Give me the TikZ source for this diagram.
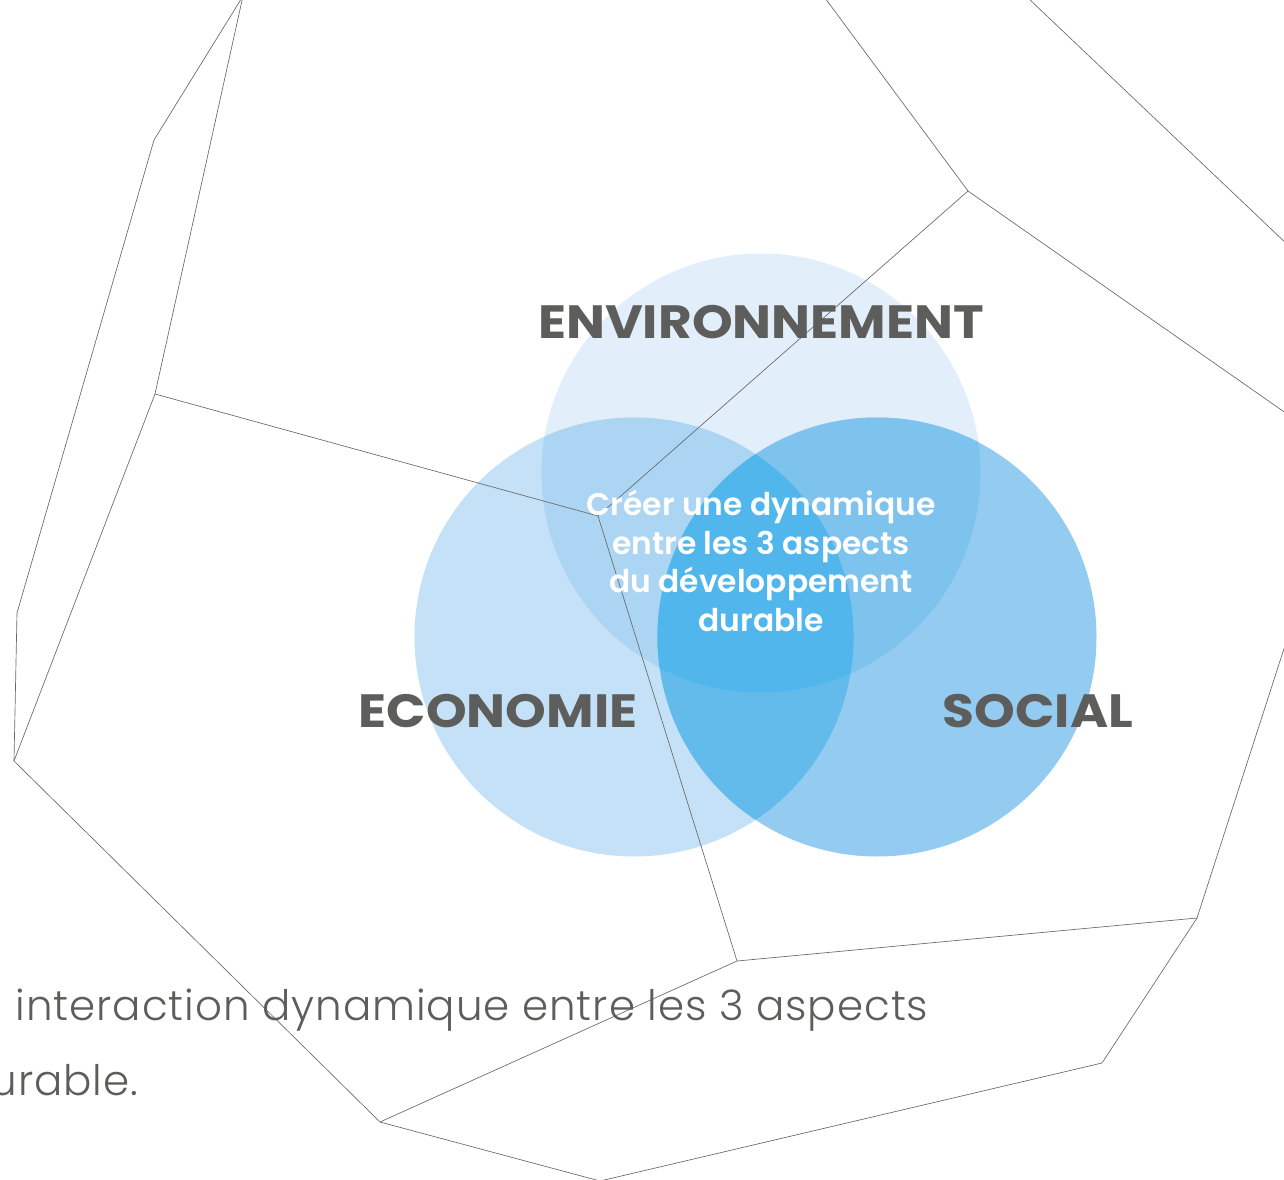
\documentclass[tikz,border=0pt]{standalone}
\usepackage{fontspec}
\usetikzlibrary{positioning}
\setmainfont{Poppins}
\newfontfamily\lightfont[LetterSpace=2.3]{Poppins Light}
\newfontfamily\semifont{Poppins SemiBold}
\newfontfamily\headfont[FakeStretch=1.11]{Poppins Bold}
\definecolor{wirecol}{RGB}{105,105,105}
\definecolor{labelcol}{RGB}{93,93,92}
\definecolor{envcol}{RGB}{226,239,251}
\definecolor{ecocol}{RGB}{196,225,247}
\definecolor{soccol}{RGB}{148,203,241}
\definecolor{envecocol}{RGB}{172,213,243}
\definecolor{envsoccol}{RGB}{126,195,237}
\definecolor{ecosoccol}{RGB}{99,187,236}
\definecolor{allcol}{RGB}{80,182,235}
\tikzset{every picture/.style={line width=0.75pt}}
\tikzset{
  wire/.style={draw=wirecol,line width=0.5pt,line join=round},
  bubble/.style={circle,minimum size=329.25pt,inner sep=0pt,outer sep=0pt},
  biglabel/.style={text=labelcol,font=\fontsize{35}{35}\headfont,inner sep=0pt,anchor=base},
  midlabel/.style={text=white,font=\fontsize{23.5}{28.9}\semifont,align=center,inner sep=0pt},
  bodytext/.style={text=labelcol,font=\fontsize{31.5}{33}\lightfont,inner sep=0pt,anchor=base west}
}
\begin{document}
\begin{tikzpicture}[x=0.75pt,y=0.75pt,yscale=-1,xscale=1]
\path [use as bounding box,clip] (0,0) rectangle (1284,1180);

% Circles
\node [bubble,fill=envcol] (envbubble) at (761,473) {};
\node [bubble,fill=ecocol] (ecobubble) at (634,637) {};
\node [bubble,fill=soccol] (socbubble) at (877,637) {};
% Overlaps
\begin{scope}
\clip (envbubble.center) circle [radius=219.5];
\fill [envecocol] (ecobubble.center) circle [radius=219.5];
\fill [envsoccol] (socbubble.center) circle [radius=219.5];
\end{scope}
\begin{scope}
\clip (ecobubble.center) circle [radius=219.5];
\fill [ecosoccol] (socbubble.center) circle [radius=219.5];
\clip (socbubble.center) circle [radius=219.5];
\fill [allcol] (envbubble.center) circle [radius=219.5];
\end{scope}

% Corners
\coordinate (topa) at (243,-4);
\coordinate (farb) at (154,140);
\coordinate (farc) at (17,613);
\coordinate (lowd) at (14,761);
\coordinate (midk) at (155,394);
\coordinate (lowe) at (380,1122);
\coordinate (lowf) at (600,1181);
\coordinate (lowg) at (1102,1063);
\coordinate (lowh) at (1197,918);
\coordinate (edgei) at (1290,630);
\coordinate (midj) at (737,961);
\coordinate (hubl) at (598,516);
\coordinate (topm) at (968,191);
\coordinate (topn) at (825,-2);
\coordinate (edgeq) at (1290,416);
\coordinate (topo) at (1028,-2);
\coordinate (edgep) at (1290,247);

% Connection
\draw [wire] (topa) -- (farb) -- (farc) -- (lowd);
\draw [wire] (topa) -- (midk) -- (lowd);
\draw [wire] (lowd) -- (lowe) -- (lowf) -- (lowg) -- (lowh) -- (edgei);
\draw [wire] (midk) -- (hubl) -- (topm) -- (topn);
\draw [wire] (hubl) -- (midj) -- (lowh);
\draw [wire] (midj) -- (lowe);
\draw [wire] (topm) -- (edgeq);
\draw [wire] (topo) -- (edgep);

% Text Node
\node [biglabel] (envlabel) at (761,338.5) {ENVIRONNEMENT};
\node [biglabel] (ecolabel) at (498,727) {ECONOMIE};
\node [biglabel] (soclabel) at (1038,727) {SOCIAL};
\node [midlabel] (midlabel) at (761,561) {Créer une dynamique\\entre les 3 aspects\\du développement\\durable};
\node [bodytext] (bodyone) at (15,1020) {interaction dynamique entre les 3 aspects};
\node [bodytext] (bodytwo) at (-10,1095) {urable.};
\end{tikzpicture}
\end{document}
